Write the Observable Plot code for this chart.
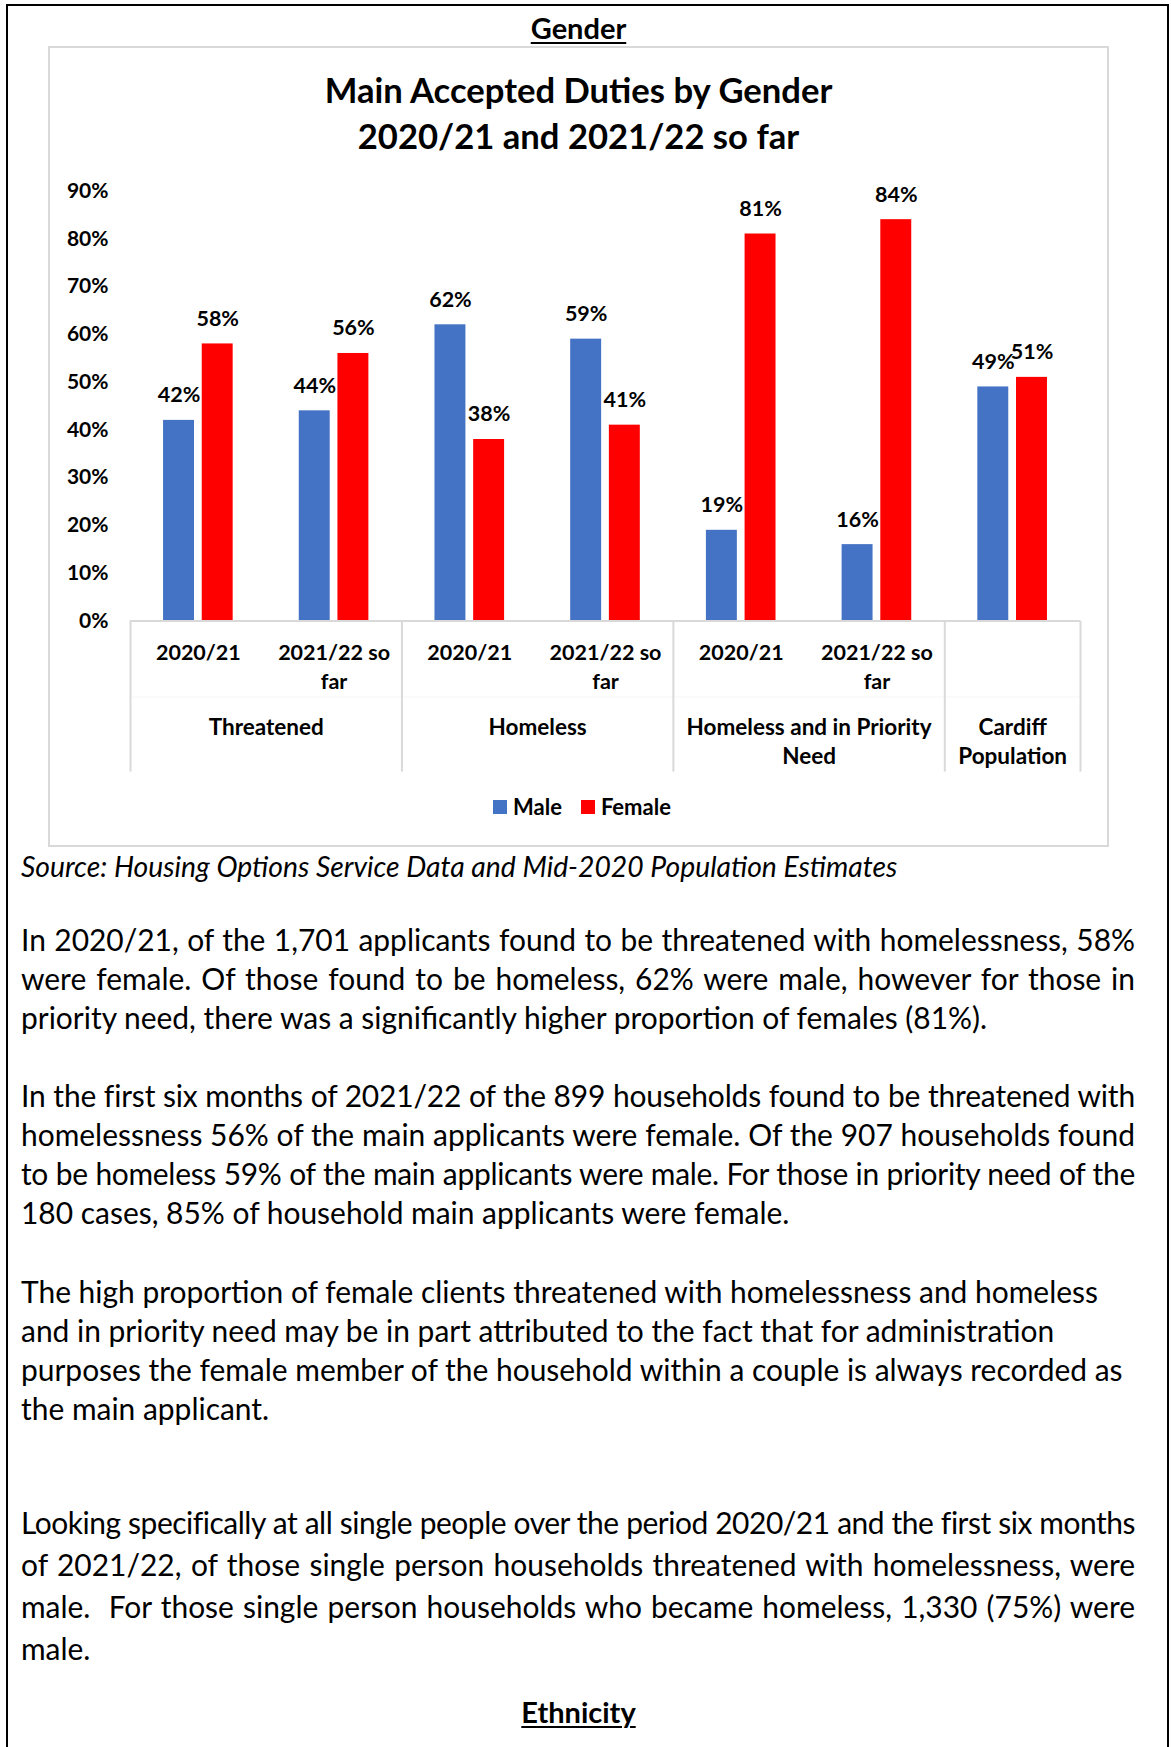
<!DOCTYPE html>
<html>
<head>
<meta charset="utf-8">
<script src="https://cdn.jsdelivr.net/npm/d3@7"></script>
<script src="https://cdn.jsdelivr.net/npm/@observablehq/plot@0.6"></script>
<style>
  html, body { margin: 0; padding: 0; background: #fff; }
  body { width: 1171px; height: 1747px; position: relative; overflow: hidden; font-family: Lato, "Open Sans", sans-serif; color: #000; }
  .page { position: absolute; left: 6px; top: 4px; width: 1163px; height: 1800px; border: 2px solid #000; border-bottom: none; box-sizing: border-box; }
  .chartbox { position: absolute; left: 48px; top: 46px; width: 1061px; height: 801px; border: 2px solid #d9d9d9; box-sizing: border-box; background: #fff; }
  .heading { position: absolute; left: 0; width: 1157px; text-align: center; font-weight: bold; font-size: 29px; line-height: 34px; }
  .heading span { text-decoration: underline; text-decoration-thickness: 2px; text-underline-offset: 3px; }
  .title { position: absolute; left: 48px; width: 1061px; text-align: center; font-weight: bold; font-size: 32px; line-height: 46px; }
  #chart { position: absolute; left: 48px; top: 160px; width: 1061px; height: 620px; }
  #legend { position: absolute; left: 493px; top: 790px; height: 25px; }
  .lg-swatches { margin: 0 !important; font-family: Lato, sans-serif !important; font-size: 22px !important; font-weight: bold !important; color: #000 !important; display: flex !important; align-items: center; }
  .lg-swatch { margin-right: 19px !important; display: inline-flex; align-items: center; }
  .lg-swatch > svg { margin-right: 6px !important; }
  .line { position: absolute; left: 21px; width: 1114px; white-space: nowrap; }
  .just { text-align: justify; text-align-last: justify; }
  .source { position: absolute; left: 21px; font-style: italic; white-space: nowrap; }
</style>
</head>
<body>
<div class="page"></div>
<div class="heading" style="top:11px"><span>Gender</span></div>
<div class="chartbox"></div>
<div class="title" id="t1" style="top:67px">Main Accepted Duties by Gender</div>
<div class="title" id="t2" style="top:113px">2020/21 and 2021/22 so far</div>
<div id="chart"></div>
<div id="legend"></div>
<div class="source" id="source">Source: Housing Options Service Data and Mid-2020 Population Estimates</div>
<div id="text"></div>
<div class="heading" style="top:1695px"><span>Ethnicity</span></div>

<script>
// ---------- chart data ----------
const categories = ["Threatened", "Homeless", "Homeless and in Priority Need", "Cardiff Population"];
const categoryLabels = ["Threatened", "Homeless", "Homeless and in Priority\nNeed", "Cardiff\nPopulation"];
const periodLabels = ["2020/21", "2021/22 so\nfar", "2020/21", "2021/22 so\nfar", "2020/21", "2021/22 so\nfar", ""];
const periodCategory = [0, 0, 1, 1, 2, 2, 3];
const series = ["Male", "Female"];
const seriesColors = ["#4472C4", "#FF0000"];
const maleValues = [0.42, 0.44, 0.62, 0.59, 0.19, 0.16, 0.49];
const femaleValues = [0.58, 0.56, 0.38, 0.41, 0.81, 0.84, 0.51];
const yTicks = [0, 0.1, 0.2, 0.3, 0.4, 0.5, 0.6, 0.7, 0.8, 0.9];

// ---------- page text ----------
const paragraphs = [
  {centers: [940.4, 979.3, 1018.3], justify: [true, true, false], lines: [
    "In 2020/21, of the 1,701 applicants found to be threatened with homelessness, 58%",
    "were female. Of those found to be homeless, 62% were male, however for those in",
    "priority need, there was a significantly higher proportion of females (81%)."]},
  {centers: [1096.3, 1135.3, 1174.3, 1213.3], justify: [true, true, true, false], lines: [
    "In the first six months of 2021/22 of the 899 households found to be threatened with",
    "homelessness 56% of the main applicants were female. Of the 907 households found",
    "to be homeless 59% of the main applicants were male. For those in priority need of the",
    "180 cases, 85% of household main applicants were female."]},
  {centers: [1292.4, 1331.4, 1370.4, 1409.4], justify: [false, false, false, false], lines: [
    "The high proportion of female clients threatened with homelessness and homeless",
    "and in priority need may be in part attributed to the fact that for administration",
    "purposes the female member of the household within a couple is always recorded as",
    "the main applicant."]},
  {centers: [1523.1, 1565.4, 1607.7, 1649.0], justify: [true, true, true, false], lines: [
    "Looking specifically at all single people over the period 2020/21 and the first six months",
    "of 2021/22, of those single person households threatened with homelessness, were",
    "male.\u00a0 For those single person households who became homeless, 1,330 (75%) were",
    "male."]}
];

// ---------- build chart ----------
const rows = periodLabels.flatMap((p, i) => [
  {slot: i, series: series[0], value: maleValues[i]},
  {slot: i, series: series[1], value: femaleValues[i]}
]);
const BAR = 0.228, GAP = 0.057;
const barLeft = d => d.slot + 0.5 + (d.series === series[0] ? -GAP / 2 - BAR : GAP / 2);
const catStart = categories.map((c, k) => periodCategory.indexOf(k));
const catEnd = categories.map((c, k) => periodCategory.lastIndexOf(k) + 1);
const catCenter = categories.map((c, k) => (catStart[k] + catEnd[k]) / 2);
const bounds = [0, ...catEnd];
const pct = d3.format(".0%");

const chart = Plot.plot({
  width: 1061,
  height: 620,
  marginLeft: 82,
  marginRight: 29,
  marginTop: 30.5,
  marginBottom: 159.4,
  x: {domain: [0, periodLabels.length], axis: null},
  y: {domain: [0, 0.9]},
  color: {domain: series, range: seriesColors},
  style: {fontFamily: "Lato, sans-serif", fontSize: "21px", fontWeight: "bold", color: "#000", background: "transparent", overflow: "visible"},
  marks: [
    Plot.axisY(yTicks, {tickFormat: pct, tickSize: 0, tickPadding: 22, label: null, fontSize: 21, fontWeight: "bold"}),
    Plot.rectY(rows, {x1: barLeft, x2: d => barLeft(d) + BAR, y1: 0, y2: "value", fill: "series"}),
    Plot.ruleY([0], {stroke: "#f6f6f6", strokeWidth: 1, dy: 76}),
    Plot.ruleY([0], {stroke: "#d9d9d9", strokeWidth: 2}),
    Plot.ruleX(bounds, {x: d => d, y1: 0, y2: 0, insetBottom: -151, stroke: "#d9d9d9", strokeWidth: 2}),
    Plot.text(rows, {x: d => barLeft(d) + BAR / 2, y: "value", text: d => pct(d.value), dy: -25, fontSize: 21.5, fontWeight: "bold"}),
    Plot.text(periodLabels, {x: (d, i) => i + 0.5, text: d => d, frameAnchor: "bottom", lineAnchor: "top", dy: 18, lineHeight: 1.35, fontSize: 21.5, fontWeight: "bold"}),
    Plot.text(categoryLabels, {x: (d, i) => catCenter[i], text: d => d, frameAnchor: "bottom", lineAnchor: "top", dy: 93.5, lineHeight: 1.29, fontSize: 22.5, fontWeight: "bold"})
  ]
});
document.getElementById("chart").append(chart);
document.getElementById("legend").append(chart.legend("color", {swatchSize: 14, className: "lg"}));

// ---------- text layout ----------
function measure(text, font) {
  const s = document.createElement("span");
  s.style.cssText = "position:absolute;visibility:hidden;white-space:nowrap;font:" + font;
  s.textContent = text;
  document.body.append(s);
  const w = s.getBoundingClientRect().width;
  s.remove();
  return w;
}
// fit body font so the ragged reference line matches its width
const refW = measure(paragraphs[2].lines[2], "26px Lato");
let bodySize = Math.max(22, Math.min(30, 26 * 1102 / refW));
const bodyFont = bodySize + "px Lato";
const textDiv = document.getElementById("text");
const LH = 39;
for (const p of paragraphs) {
  p.lines.forEach((ln, j) => {
    const d = document.createElement("div");
    d.className = "line" + (p.justify[j] ? " just" : "");
    d.style.top = (p.centers[j] - LH / 2) + "px";
    d.style.height = LH + "px";
    d.style.lineHeight = LH + "px";
    d.style.font = bodyFont;
    const w = measure(ln, bodyFont);
    if (p.justify[j] && w > 1114) {
      const n = ln.length - 1;
      d.style.letterSpacing = ((1114 - w) / n - 0.05) + "px";
    }
    d.textContent = ln;
    textDiv.append(d);
  });
}
// source line
const src = document.getElementById("source");
const srcW = measure(src.textContent, "italic 24px Lato");
const srcSize = 24 * 877 / srcW;
src.style.font = "italic " + srcSize + "px Lato";
src.style.lineHeight = "30px";
src.style.top = (865.7 - 15) + "px";
// title fit
const tW = measure("Main Accepted Duties by Gender", "bold 32px Lato");
const tSize = Math.max(28, Math.min(36, 32 * 508 / tW));
document.getElementById("t1").style.fontSize = tSize + "px";
document.getElementById("t2").style.fontSize = tSize + "px";
</script>
</body>
</html>
